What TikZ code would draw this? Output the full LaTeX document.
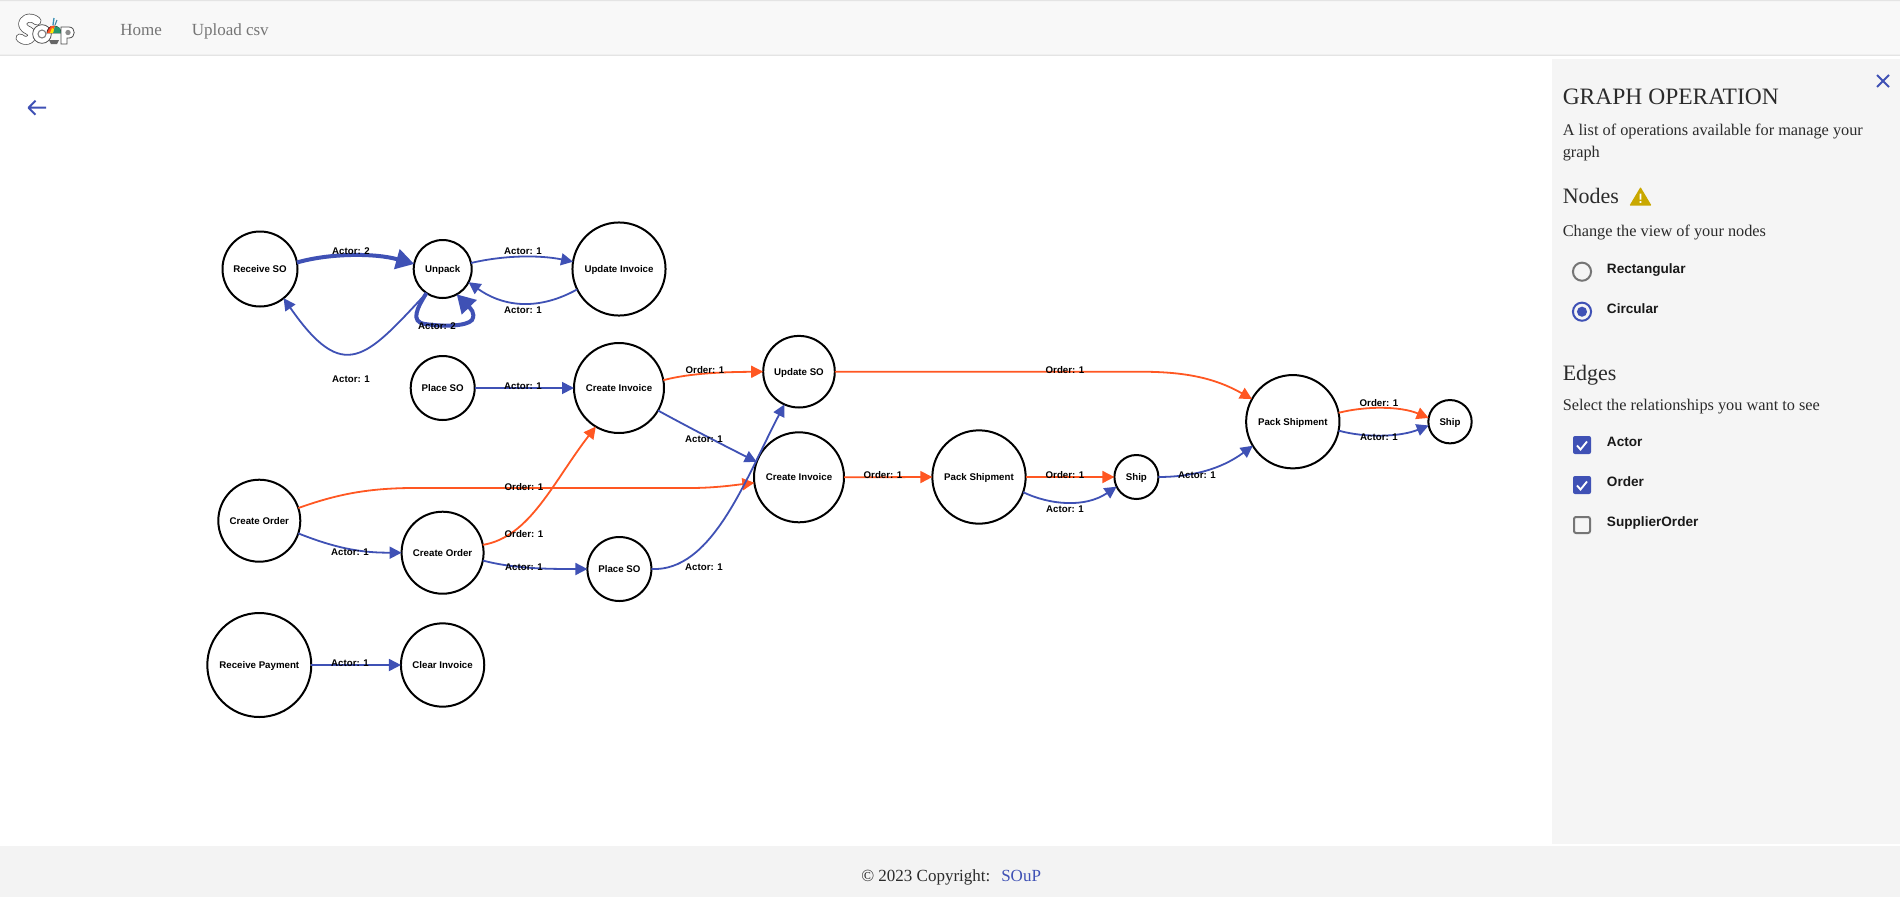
\documentclass[tikz,border=0pt]{standalone}
\usepackage{fontspec}
\setmainfont{Liberation Serif}
\newfontfamily\gfont{Liberation Sans}
\usetikzlibrary{arrows.meta}
\definecolor{blueE}{HTML}{3F51B5}
\definecolor{orangeE}{HTML}{FF5722}
\definecolor{navbg}{HTML}{F8F8F8}
\definecolor{navline}{HTML}{E4E4E4}
\definecolor{sidebg}{HTML}{F5F5F5}
\definecolor{footbg}{HTML}{F3F3F3}
\definecolor{inkc}{HTML}{2B2B2B}
\definecolor{navtext}{HTML}{757575}
\definecolor{warnc}{HTML}{C9A800}
\definecolor{graybox}{HTML}{757575}
\newcommand{\fs}[1]{\fontsize{\fpeval{#1*0.75}}{\fpeval{#1*0.9}}\selectfont}
\tikzset{
  act/.style={draw=black,line width=1.5pt,circle,inner sep=0pt,outer sep=0pt,font=\gfont\bfseries\fs{9.7},text=black,text height=5.2pt,text depth=0pt},
  edgeA/.style={draw=blueE,line width=1.35pt,-{Triangle[length=9pt,width=9pt]}},
  edgeB/.style={draw=blueE,line width=3pt,-{Triangle[length=13.5pt,width=15pt]}},
  edgeO/.style={draw=orangeE,line width=1.35pt,-{Triangle[length=9pt,width=9pt]}},
  elabel/.style={font=\gfont\bfseries\fs{9.7},text=black,inner sep=0pt,text height=5.2pt,text depth=0pt},
  uibase/.style={anchor=base west,inner sep=0pt,text=inkc},
  uibold/.style={uibase,font=\gfont\bfseries\fs{13.6},text=black!90},
  navlink/.style={uibase,font=\fs{17},text=navtext},
  logoO/.style={draw=black!70,line cap=round,line join=round,line width=6.6pt},
  logoI/.style={draw=white,line cap=round,line join=round,line width=5.5pt},
}
\begin{document}
\begin{tikzpicture}[x=0.75pt,y=-0.75pt]
\useasboundingbox (0,0) rectangle (1900,897);
\fill[white] (0,0) rectangle (1900,897);
% navbar
\draw[fill=navbg,draw=navline,line width=1pt,rounded corners=3pt] (-4,0.5) rectangle (1904,55.3);
% logo
\draw[logoO] (37,21) .. controls (30,15) and (21,19) .. (23,26) .. controls (25,31) and (33,30) .. (32,36) .. controls (31,41) and (24,42) .. (20,38);
\draw[logoI] (37,21) .. controls (30,15) and (21,19) .. (23,26) .. controls (25,31) and (33,30) .. (32,36) .. controls (31,41) and (24,42) .. (20,38);
\fill[white,draw=black!70,line width=0.6pt] (42,34) circle [radius=7pt];
\draw[black!50,line width=0.8pt] (42,34) circle [radius=3pt];
\fill[white,draw=black!80,line width=0.7pt] (47,33) -- (61,33) arc[start angle=0,end angle=180,radius=5.25pt] -- cycle;
\fill[black!60] (49,40) -- (59,40) -- (57,44) -- (51,44) -- cycle;
\fill[orangeE] (47,33) -- (51,26) -- (55,26) -- (53,33) -- cycle;
\fill[blueE!60!green] (53,33) -- (55,26) -- (60,28) -- (61,33) -- cycle;
\fill[red!80!black] (47,33) -- (49,28) -- (51,26) -- cycle;
\fill[yellow!90!orange] (50,33) -- (52,28) -- (54,29) -- (53,33) -- cycle;
\draw[cyan!70!black,line width=1pt] (53,25) -- (54,18);
\draw[cyan!60!black,line width=0.8pt] (55,25) -- (57,20);
\draw[fill=white,draw=black!70,line width=0.6pt] (61,27) -- (69,27) .. controls (76,27) and (76,38) .. (69,38) -- (67,38) -- (67,44) -- (61,44) -- cycle;
\fill[black!45] (68,32.5) circle [radius=2pt];
\node[navlink] (home) at (120,35) {Home};
\node[navlink] (upload) at (191.5,35) {Upload csv};
% back arrow
\draw[blueE,line width=1.5pt,line join=round] (46,107.7) -- (28.5,107.7) (35.5,100.7) -- (28.5,107.7) -- (35.5,114.7);
% side panel and footer
\fill[sidebg] (1552,59) rectangle (1900,844);
\fill[footbg] (0,846) rectangle (1900,897);
% close
\draw[blueE,line width=1.4pt] (1877,75) -- (1889,87) (1889,75) -- (1877,87);
\node[uibase,font=\fs{23.5}] (ttl) at (1562.5,104) {GRAPH OPERATION};
\node[uibase,font=\fs{16.3}] (d1) at (1562.5,135) {A list of operations available for manage your};
\node[uibase,font=\fs{16.3}] (d2) at (1562.5,157) {graph};
\node[uibase,font=\fs{22}] (nn) at (1562.5,203.7) {Nodes};
\fill[warnc,rounded corners=0.5pt] (1640.5,187) -- (1651.5,205.5) -- (1629.5,205.5) -- cycle;
\fill[white] (1639.7,193.5) rectangle (1641.3,199.5) (1639.7,201) rectangle (1641.3,202.8);
\node[uibase,font=\fs{16.3}] (d3) at (1562.5,236) {Change the view of your nodes};
\draw[graybox,line width=1.5pt] (1582,271.7) circle [radius=6.8pt];
\node[uibold] (rr) at (1606.7,273) {Rectangular};
\draw[blueE,line width=1.5pt] (1582,311.7) circle [radius=6.8pt];
\fill[blueE] (1582,311.7) circle [radius=3.8pt];
\node[uibold] (rc) at (1606.7,313) {Circular};
\node[uibase,font=\fs{22}] (ee) at (1562.5,380) {Edges};
\node[uibase,font=\fs{16.3}] (d4) at (1562.5,410) {Select the relationships you want to see};
\fill[blueE,rounded corners=1.5pt] (1573,436) rectangle (1591,454);
\draw[white,line width=1.4pt] (1577,445.5) -- (1580.5,449.5) -- (1587,441.5);
\node[uibold] (ca) at (1606.7,446) {Actor};
\fill[blueE,rounded corners=1.5pt] (1573,476) rectangle (1591,494);
\draw[white,line width=1.4pt] (1577,485.5) -- (1580.5,489.5) -- (1587,481.5);
\node[uibold] (co) at (1606.7,486) {Order};
\draw[graybox,line width=1.5pt,rounded corners=1.5pt] (1574,517) rectangle (1590,533);
\node[uibold] (cs) at (1606.7,526) {SupplierOrder};
\node[uibase,font=\fs{17}] (cp) at (861,881) {© 2023 Copyright:};
\node[uibase,font=\fs{17},text=blueE] (sp) at (1001,881) {SOuP};
% graph nodes
\node[act,minimum size=56.25pt] (rso) at (260,269) {Receive SO};
\node[act,minimum size=43.5pt] (unp) at (442.7,269) {Unpack};
\node[act,minimum size=69.8pt] (uin) at (619,269) {Update Invoice};
\node[act,minimum size=48pt] (pso) at (442.7,388) {Place SO};
\node[act,minimum size=67.5pt] (ci1) at (619,388) {Create Invoice};
\node[act,minimum size=53.7pt] (upd) at (799,371.7) {Update SO};
\node[act,minimum size=61.5pt] (co1) at (259.3,520.7) {Create Order};
\node[act,minimum size=61.5pt] (co2) at (442.6,552.7) {Create Order};
\node[act,minimum size=48pt] (ps2) at (619.4,569) {Place SO};
\node[act,minimum size=78pt] (rp) at (259.3,665) {Receive Payment};
\node[act,minimum size=62.5pt] (cl) at (442.6,665) {Clear Invoice};
\node[act,minimum size=67.5pt] (ci2) at (799,477.3) {Create Invoice};
\node[act,minimum size=70pt] (ps1) at (979,477) {Pack Shipment};
\node[act,minimum size=33pt] (sh1) at (1136.4,477) {Ship};
\node[act,minimum size=70pt] (ps3) at (1292.8,421.7) {Pack Shipment};
\node[act,minimum size=32.5pt] (sh2) at (1450,421.7) {Ship};
% edges
\draw[edgeB] (rso.10) .. controls (330,253) and (375,253) .. (unp.170);
\draw[edgeA] (unp.12) .. controls (505,255) and (540,255) .. (uin.171);
\draw[edgeA] (uin.206) .. controls (540,310) and (505,308) .. (unp.-27);
\draw[edgeA] (unp.236) .. controls (366,358) and (344,385) .. (rso.-51);
\draw[edgeB] (unp.236) .. controls (417,308) and (410,322) .. (425,324) .. controls (445,327) and (467,326) .. (472,320) .. controls (476,313) and (470,308) .. (unp.-61);
\draw[edgeA] (pso.0) -- (ci1.180);
\draw[edgeO] (ci1.10) .. controls (690,373) and (725,372) .. (upd.180);
\draw[edgeO] (upd.0) -- (1140,371.7) .. controls (1185,371.7) and (1215,378) .. (ps3.151);
\draw[edgeA] (ci1.-30) .. controls (690,428) and (725,446) .. (ci2.160);
\draw[edgeO] (co1.18) .. controls (335,495) and (365,488.5) .. (410,488) -- (690,488) .. controls (715,488) and (735,485) .. (ci2.187);
\draw[edgeO] (co2.11) .. controls (530,537) and (553,482) .. (ci1.239);
\draw[edgeA] (co1.-18) .. controls (340,550) and (365,552.7) .. (co2.180);
\draw[edgeA] (co2.-11) .. controls (515,569) and (550,569) .. (ps2.180);
\draw[edgeA] (ps2.0) .. controls (712,572) and (745,480) .. (upd.246);
\draw[edgeA] (rp.0) -- (cl.180);
\draw[edgeO] (ci2.0) -- (ps1.180);
\draw[edgeO] (ps1.0) -- (sh1.180);
\draw[edgeA] (ps1.-19) .. controls (1050,505) and (1085,508) .. (sh1.206);
\draw[edgeA] (sh1.0) .. controls (1190,477) and (1220,470) .. (ps3.211);
\draw[edgeO] (ps3.11) .. controls (1365,406) and (1400,406) .. (sh2.170);
\draw[edgeA] (ps3.-11) .. controls (1365,438) and (1400,437) .. (sh2.190);
% edge labels
\node[elabel] (l1) at (351,251) {Actor: 2};
\node[elabel] (l2) at (523,251) {Actor: 1};
\node[elabel] (l3) at (523,310) {Actor: 1};
\node[elabel] (l4) at (437,326) {Actor: 2};
\node[elabel] (l5) at (351,379) {Actor: 1};
\node[elabel] (l6) at (523,386) {Actor: 1};
\node[elabel] (l7) at (524,487) {Order: 1};
\node[elabel] (l8) at (524,534) {Order: 1};
\node[elabel] (l9) at (350,552) {Actor: 1};
\node[elabel] (l10) at (524,567) {Actor: 1};
\node[elabel] (l11) at (704,567) {Actor: 1};
\node[elabel] (l12) at (704,439) {Actor: 1};
\node[elabel] (l13) at (350,663) {Actor: 1};
\node[elabel] (l14) at (705,370) {Order: 1};
\node[elabel] (l15) at (1065,370) {Order: 1};
\node[elabel] (l16) at (883,475) {Order: 1};
\node[elabel] (l17) at (1065,475) {Order: 1};
\node[elabel] (l18) at (1197,475) {Actor: 1};
\node[elabel] (l19) at (1065,509) {Actor: 1};
\node[elabel] (l20) at (1379,403) {Order: 1};
\node[elabel] (l21) at (1379,437) {Actor: 1};
\end{tikzpicture}
\end{document}
